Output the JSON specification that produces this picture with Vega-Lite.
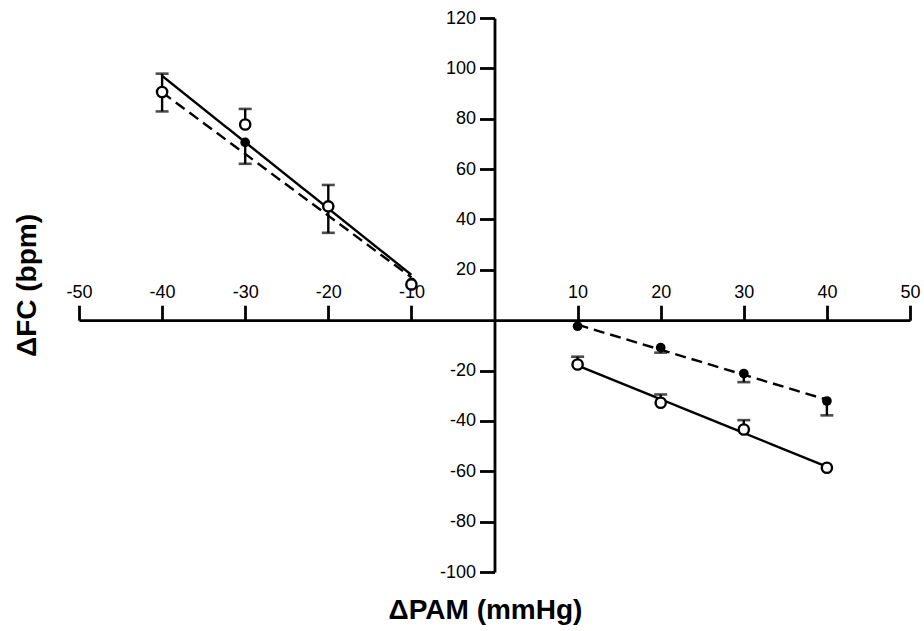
{
  "$schema": "https://vega.github.io/schema/vega-lite/v6.json",
  "width": 831,
  "height": 554,
  "autosize": "none",
  "padding": {"left": 79, "top": 18, "right": 14, "bottom": 59},
  "background": "white",
  "config": {
    "view": {"stroke": null},
    "font": "Liberation Sans",
    "axis": {
      "grid": false,
      "domainColor": "black",
      "domainWidth": 2.8,
      "tickColor": "black",
      "tickWidth": 2.8,
      "tickSize": 15,
      "labelColor": "black",
      "labelFont": "Liberation Sans",
      "labelFontSize": 18,
      "labelPadding": 4,
      "labelFlush": false,
      "labelOverlap": false,
      "labelExpr": "toString(datum.value)",
      "titleFont": "Liberation Sans",
      "titleFontSize": 28,
      "titleFontWeight": "bold",
      "titleColor": "black"
    }
  },
  "datasets": {
    "pts": [
      {"x": -40, "y": 90.5, "g": "filled"},
      {"x": -30, "y": 70.6, "g": "filled"},
      {"x": -20, "y": 45.0, "g": "filled"},
      {"x": -10, "y": 15.0, "g": "filled"},
      {"x": 10, "y": -2.4, "g": "filled"},
      {"x": 20, "y": -10.9, "g": "filled"},
      {"x": 30, "y": -21.2, "g": "filled"},
      {"x": 40, "y": -32.1, "g": "filled"},
      {"x": -40, "y": 90.6, "g": "open"},
      {"x": -30, "y": 77.7, "g": "open"},
      {"x": -20, "y": 45.2, "g": "open"},
      {"x": -10, "y": 14.2, "g": "open"},
      {"x": 10, "y": -17.6, "g": "open"},
      {"x": 20, "y": -32.8, "g": "open"},
      {"x": 30, "y": -43.4, "g": "open"},
      {"x": 40, "y": -58.6, "g": "open"}
    ],
    "errs": [
      {"x": -40, "g": "open", "y": 90.6, "lo": 82.9, "hi": 97.9},
      {"x": -30, "g": "open", "y": 77.7, "lo": 77.7, "hi": 83.9},
      {"x": -30, "g": "filled", "y": 70.6, "lo": 62.1, "hi": 70.6},
      {"x": -20, "g": "open", "y": 45.2, "lo": 34.7, "hi": 53.7},
      {"x": 20, "g": "filled", "y": -10.9, "lo": -12.9, "hi": -10.9},
      {"x": 30, "g": "filled", "y": -21.2, "lo": -24.6, "hi": -21.2},
      {"x": 40, "g": "filled", "y": -32.1, "lo": -37.8, "hi": -32.1},
      {"x": 10, "g": "open", "y": -17.6, "lo": -17.6, "hi": -14.5},
      {"x": 20, "g": "open", "y": -32.8, "lo": -32.8, "hi": -29.5},
      {"x": 30, "g": "open", "y": -43.4, "lo": -43.4, "hi": -39.7}
    ],
    "fits": [
      {"line": "openL", "style": "solid", "x": -40, "y": 97.0},
      {"line": "openL", "style": "solid", "x": -10, "y": 18.0},
      {"line": "filledL", "style": "dashed", "x": -40, "y": 90.5},
      {"line": "filledL", "style": "dashed", "x": -10, "y": 17.0},
      {"line": "openR", "style": "solid", "x": 10, "y": -18.0},
      {"line": "openR", "style": "solid", "x": 40, "y": -58.2},
      {"line": "filledR", "style": "dashed", "x": 10, "y": -1.8},
      {"line": "filledR", "style": "dashed", "x": 40, "y": -31.6}
    ]
  },
  "layer": [
    {
      "data": {"name": "fits"},
      "mark": {"type": "line", "color": "black", "strokeWidth": 2.4},
      "encoding": {
        "x": {
          "field": "x", "type": "quantitative",
          "scale": {"domain": [-50, 50], "nice": false, "zero": false},
          "axis": {
            "orient": "top",
            "offset": -302.2,
            "values": [-50, -40, -30, -20, -10, 10, 20, 30, 40, 50],
            "title": "ΔPAM (mmHg)",
            "titleX": 406,
            "titleY": 290,
            "titleAngle": 0,
            "titleAlign": "center",
            "titleBaseline": "middle"
          }
        },
        "y": {
          "field": "y", "type": "quantitative",
          "scale": {"domain": [-100, 120], "nice": false, "zero": false},
          "axis": {
            "orient": "left",
            "offset": -415.5,
            "values": [-100, -80, -60, -40, -20, 20, 40, 60, 80, 100, 120],
            "title": "ΔFC (bpm)",
            "titleX": -467,
            "titleY": 267,
            "titleAngle": -90,
            "titleAlign": "center",
            "titleBaseline": "middle"
          }
        },
        "detail": {"field": "line"},
        "strokeDash": {
          "field": "style", "type": "nominal",
          "scale": {"domain": ["solid", "dashed"], "range": [[1, 0], [11, 6]]},
          "legend": null
        }
      }
    },
    {
      "data": {"name": "errs"},
      "mark": {"type": "rule", "color": "black", "strokeWidth": 2.4},
      "encoding": {
        "x": {"field": "x", "type": "quantitative"},
        "y": {"field": "lo", "type": "quantitative"},
        "y2": {"field": "hi"}
      }
    },
    {
      "data": {"name": "errs"},
      "transform": [
        {"fold": ["lo", "hi"], "as": ["end", "v"]},
        {"filter": "datum.v != datum.y"}
      ],
      "mark": {"type": "tick", "orient": "horizontal", "color": "black", "thickness": 2.6, "size": 13},
      "encoding": {
        "x": {"field": "x", "type": "quantitative"},
        "y": {"field": "v", "type": "quantitative"}
      }
    },
    {
      "data": {"name": "pts"},
      "transform": [{"filter": "datum.g == 'filled'"}],
      "mark": {"type": "circle", "color": "black", "opacity": 1, "size": 95},
      "encoding": {
        "x": {"field": "x", "type": "quantitative"},
        "y": {"field": "y", "type": "quantitative"}
      }
    },
    {
      "data": {"name": "pts"},
      "transform": [{"filter": "datum.g == 'open'"}],
      "mark": {"type": "point", "shape": "circle", "filled": true, "fill": "white", "stroke": "black", "strokeWidth": 2.4, "opacity": 1, "size": 105},
      "encoding": {
        "x": {"field": "x", "type": "quantitative"},
        "y": {"field": "y", "type": "quantitative"}
      }
    }
  ]
}
